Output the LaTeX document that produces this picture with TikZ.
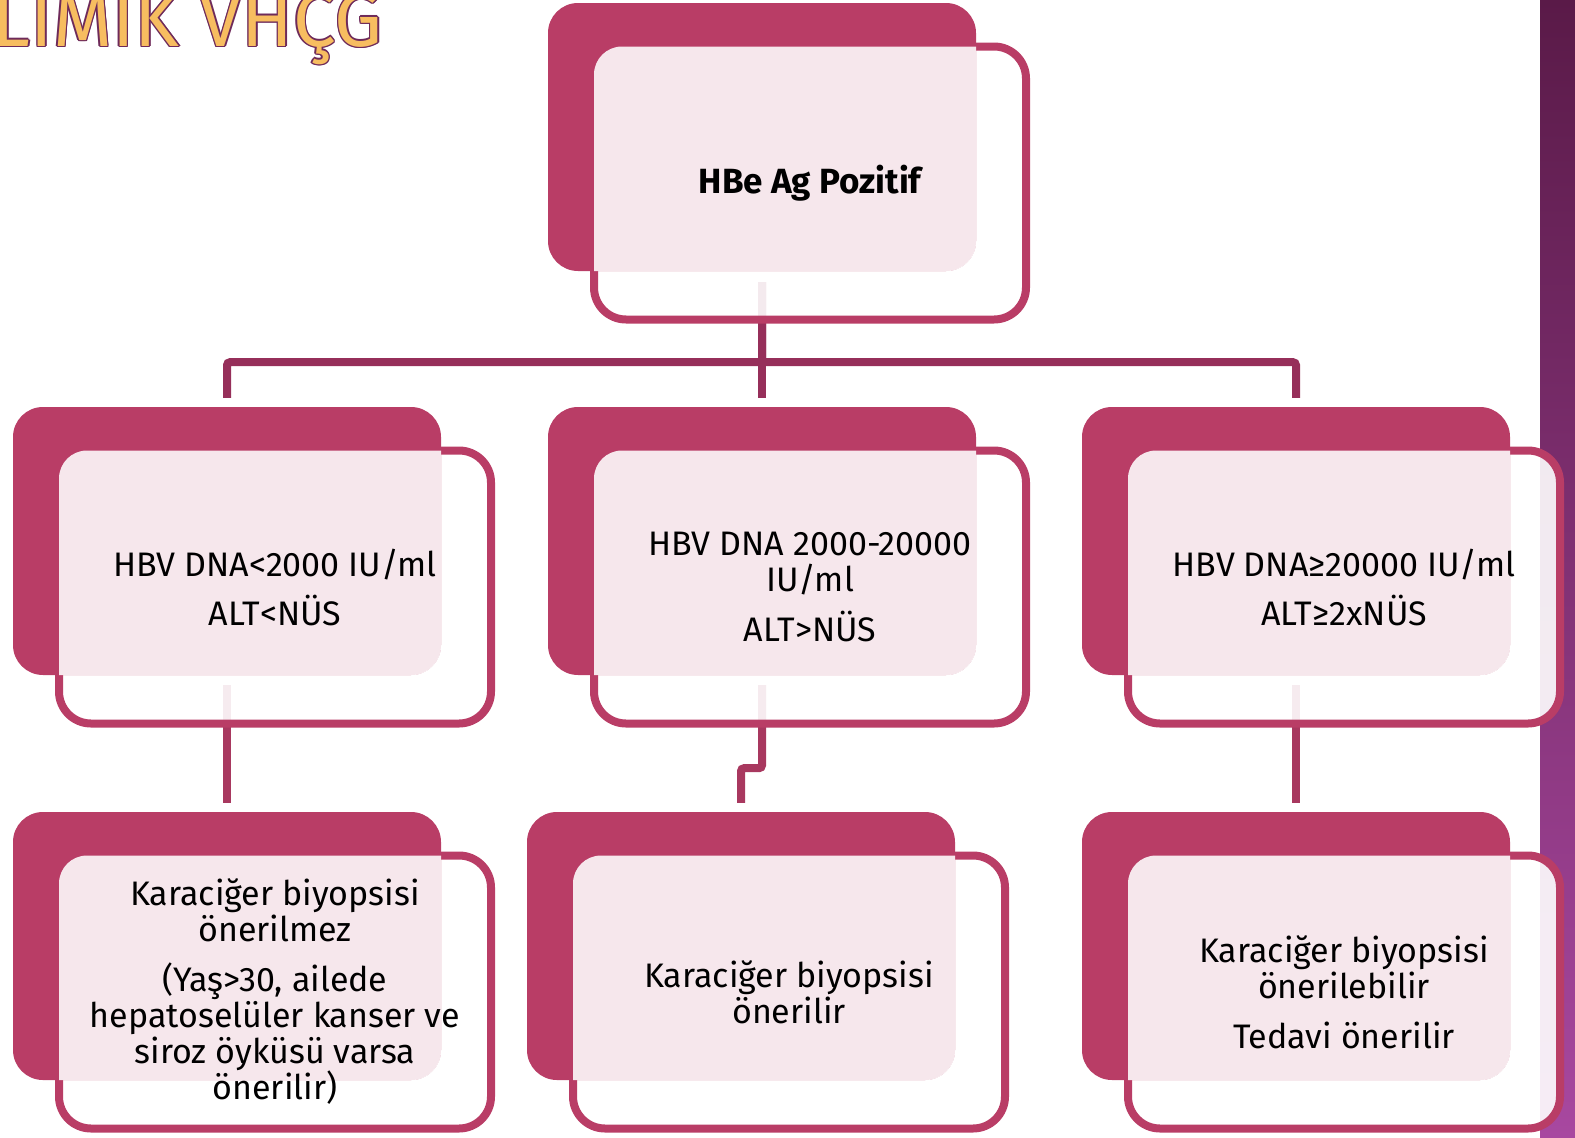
\documentclass[tikz,border=0pt]{standalone}
\usepackage{fontspec}
\setmainfont{Fira Sans}
\usetikzlibrary{calc}
\pgfdeclarelayer{background}
\pgfsetlayers{background,main}

\definecolor{pembe}{HTML}{B93D66}
\definecolor{hatust}{HTML}{962F5A}
\definecolor{hatalt}{HTML}{A8385F}
\definecolor{mortop}{HTML}{5A1A48}
\definecolor{morbot}{HTML}{A848A0}
\definecolor{altin}{HTML}{F7BD60}
\definecolor{kontur}{HTML}{6E2A5A}

% one box: name, centre of the back box, text
\newcommand{\kutu}[4]{%
  \node[cerceve] (#1c) at (#2+48,#3+46) {};
  \node[arka] (#1a) at (#2,#3) {};
  \begin{scope}
    \clip[rounded corners=30] (#1a.north west) rectangle (#1a.south east);
    \fill[white,fill opacity=0.88,rounded corners=28]
      ($(#1c.north west)+(4,4)$) rectangle ($(#1c.south east)+(-4,-4)$);
  \end{scope}
  \node[yazi] (#1) at (#1c.center) {#4};
}

\begin{document}
\begin{tikzpicture}[x=1pt,y=-1pt,
    cerceve/.style={rectangle,draw=pembe,line width=8pt,fill=white,fill opacity=0.9,
      rounded corners=32,minimum width=432,minimum height=273,inner sep=0pt},
    arka/.style={rectangle,fill=pembe,rounded corners=30,
      minimum width=428,minimum height=268,inner sep=0pt},
    yazi/.style={align=center,inner sep=0pt,font=\fontsize{34}{36}\selectfont},
    hat/.style={line width=8pt,color=hatust,rounded corners=3,
      shorten <=11pt,shorten >=9pt},
    hatb/.style={line width=8pt,color=hatalt,rounded corners=3,
      shorten <=10pt,shorten >=9pt}]
  \useasboundingbox (0,0) rectangle (1575,1138);
  %
  % title, cut by the page edge
  \foreach \dx/\dy [count=\i] in {-1.5/0,1.5/0,0/-1.5,0/1.5,-1/-1,1/1,-1/1,1/-1}
    \node[anchor=base east,text=kontur,font=\fontsize{76}{80}\selectfont]
      (golge\i) at (386+\dx,46+\dy) {LIMIK VHÇG};
  \node[anchor=base east,text=altin,font=\fontsize{76}{80}\selectfont]
    (baslik) at (386,46) {LIMIK VHÇG};
  %
  \kutu{ust}{762}{137}{\fontsize{35}{36}\selectfont\bfseries HBe Ag Pozitif}
  %
  \kutu{sol}{227}{541}{HBV DNA<2000 IU/ml\\[13pt]ALT<NÜS}
  \kutu{orta}{762}{541}{HBV DNA 2000-20000\\IU/ml\\[14pt]ALT>NÜS}
  \kutu{sag}{1296}{541}{HBV DNA≥20000 IU/ml\\[13pt]ALT≥2xNÜS}
  %
  \kutu{sol3}{227}{946}{Karaciğer biyopsisi\\önerilmez\\[14pt](Yaş>30, ailede\\
    hepatoselüler kanser ve\\siroz öyküsü varsa\\önerilir)}
  \kutu{orta3}{741}{946}{Karaciğer biyopsisi\\önerilir}
  \kutu{sag3}{1296}{946}{Karaciğer biyopsisi\\önerilebilir\\[14pt]Tedavi önerilir}
  %
  \begin{pgfonlayer}{background}
    \shade[top color=mortop,bottom color=morbot] (1540,0) rectangle (1575,1138);
    \draw[hat] (usta.south) -- ++(0,91) -| (sola.north);
    \draw[hat] (usta.south) -- ++(0,91) -| (ortaa.north);
    \draw[hat] (usta.south) -- ++(0,91) -| (saga.north);
    %
    \draw[hatb] (sola.south) -- (sol3a.north);
    \draw[hatb] (ortaa.south) -- ++(0,93) -| (orta3a.north);
    \draw[hatb] (saga.south) -- (sag3a.north);
  \end{pgfonlayer}
\end{tikzpicture}
\end{document}
